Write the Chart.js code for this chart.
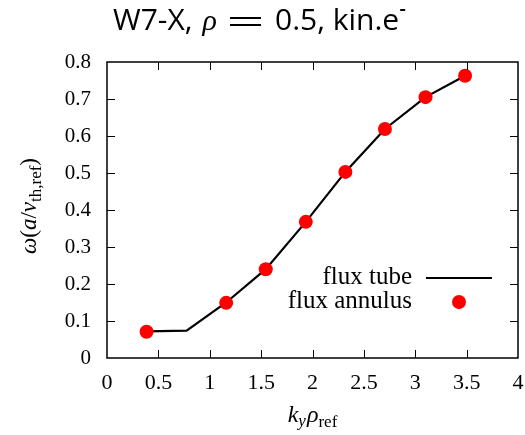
<!DOCTYPE html>
<html>
<head>
<meta charset="utf-8">
<script src="https://cdn.jsdelivr.net/npm/chart.js@4"></script>
<style>
  html, body { margin: 0; padding: 0; background: #fff; }
  #wrap { width: 525px; height: 435px; }
</style>
</head>
<body>
<div id="wrap"><canvas id="growth"></canvas></div>
<script>
const kyTube = [0.385, 0.775, 1.16, 1.545, 1.935, 2.32, 2.705, 3.1, 3.485];
const omegaTube = [0.072, 0.074, 0.15, 0.24, 0.368, 0.503, 0.619, 0.705, 0.763];
const kyAnnulus = [0.385, 1.16, 1.545, 1.935, 2.32, 2.705, 3.1, 3.485];
const omegaAnnulus = [0.071, 0.149, 0.24, 0.368, 0.503, 0.619, 0.705, 0.763];
const xTicks = [0, 0.5, 1, 1.5, 2, 2.5, 3, 3.5, 4];
const yTicks = [0, 0.1, 0.2, 0.3, 0.4, 0.5, 0.6, 0.7, 0.8];

const TSERIF = '"Liberation Serif", serif';
const SANS = '"Open Sans", sans-serif';

// draw a run of text pieces with different fonts / baseline shifts
function drawParts(ctx, parts, x, y, align) {
  let w = 0;
  parts.forEach(p => { ctx.font = p.font; p.w = ctx.measureText(p.t).width; w += p.w + (p.gap || 0); });
  let cx = align === 'center' ? x - w / 2 : (align === 'right' ? x - w : x);
  ctx.textBaseline = 'alphabetic';
  ctx.textAlign = 'left';
  parts.forEach(p => {
    ctx.font = p.font;
    ctx.fillText(p.t, cx, y + (p.dy || 0));
    cx += p.w + (p.gap || 0);
  });
}

const decor = {
  id: 'decor',
  afterDraw(chart) {
    const ctx = chart.ctx;
    const a = chart.chartArea;
    const xs = chart.scales.x, ys = chart.scales.y;
    ctx.save();
    ctx.strokeStyle = '#000';
    ctx.fillStyle = '#000';
    ctx.lineWidth = 1.5;
    ctx.strokeRect(a.left, a.top, a.right - a.left, a.bottom - a.top);
    ctx.lineWidth = 1;
    ctx.beginPath();
    xTicks.slice(1, -1).forEach(v => {
      const px = Math.round(xs.getPixelForValue(v)) + 0.5;
      ctx.moveTo(px, a.bottom); ctx.lineTo(px, a.bottom - 8);
      ctx.moveTo(px, a.top); ctx.lineTo(px, a.top + 8);
    });
    yTicks.slice(1, -1).forEach(v => {
      const py = Math.round(ys.getPixelForValue(v)) + 0.5;
      ctx.moveTo(a.left, py); ctx.lineTo(a.left + 8, py);
      ctx.moveTo(a.right, py); ctx.lineTo(a.right - 8, py);
    });
    ctx.stroke();

    // title: W7-X, rho = 0.5, kin.e-
    ctx.textAlign = 'left';
    ctx.textBaseline = 'alphabetic';
    ctx.font = '30px ' + SANS;
    let tx = 113;
    ctx.fillText('W7-X,', tx, 30);
    tx += ctx.measureText('W7-X,').width + 10;
    ctx.font = 'italic 30px ' + TSERIF;
    ctx.fillText('ρ', tx, 30);
    tx += ctx.measureText('ρ').width + 13;
    ctx.fillRect(tx, 17, 31, 2);
    ctx.fillRect(tx, 24, 31, 2);
    tx += 31 + 14;
    ctx.font = '30px ' + SANS;
    ctx.fillText('0.5, kin.e', tx, 30);
    tx += ctx.measureText('0.5, kin.e').width + 1;
    ctx.fillRect(tx, 9, 5, 2);

    const mid = (a.left + a.right) / 2;
    // x axis title
    drawParts(ctx, [
      { t: 'k', font: 'italic 24px ' + TSERIF },
      { t: 'y', font: 'italic 17px ' + TSERIF, dy: 4, gap: 1 },
      { t: 'ρ', font: 'italic 24px ' + TSERIF },
      { t: 'ref', font: '17px ' + TSERIF, dy: 5 }
    ], mid, 422, 'center');

    // y axis title
    ctx.save();
    ctx.translate(36, (a.top + a.bottom) / 2 - 4);
    ctx.rotate(-Math.PI / 2);
    drawParts(ctx, [
      { t: 'ω', font: 'italic 23px ' + TSERIF },
      { t: '(', font: '23px ' + TSERIF },
      { t: 'a', font: 'italic 23px ' + TSERIF },
      { t: '/', font: '23px ' + TSERIF },
      { t: 'v', font: 'italic 23px ' + TSERIF },
      { t: 'th,ref', font: '17px ' + TSERIF, dy: 5 },
      { t: ')', font: '23px ' + TSERIF }
    ], 0, 0, 'center');
    ctx.restore();

    // legend
    const ds = chart.data.datasets;
    ctx.font = '25px ' + TSERIF;
    ctx.textAlign = 'right';
    ctx.fillText(ds[0].label, 412, 284);
    ctx.fillText(ds[1].label, 412, 308);
    ctx.strokeStyle = ds[0].borderColor;
    ctx.lineWidth = ds[0].borderWidth;
    ctx.beginPath(); ctx.moveTo(426, 278); ctx.lineTo(492, 278); ctx.stroke();
    ctx.fillStyle = ds[1].backgroundColor;
    ctx.beginPath(); ctx.arc(459, 302, ds[1].pointRadius, 0, Math.PI * 2); ctx.fill();
    ctx.restore();
  }
};

new Chart(document.getElementById('growth'), {
  type: 'scatter',
  data: {
    datasets: [
      {
        label: 'flux tube',
        data: kyTube.map((k, i) => ({ x: k, y: omegaTube[i] })),
        showLine: true,
        borderColor: '#000',
        borderWidth: 2.2,
        pointRadius: 0,
        fill: false,
        order: 2
      },
      {
        label: 'flux annulus',
        data: kyAnnulus.map((k, i) => ({ x: k, y: omegaAnnulus[i] })),
        showLine: false,
        backgroundColor: '#ff0000',
        borderColor: '#ff0000',
        pointRadius: 7,
        pointBorderWidth: 0,
        order: 1
      }
    ]
  },
  options: {
    responsive: true,
    maintainAspectRatio: false,
    animation: false,
    layout: { padding: { left: 0, right: -9, top: 62, bottom: 0 } },
    plugins: { legend: { display: false }, tooltip: { enabled: false } },
    scales: {
      x: {
        type: 'linear', min: 0, max: 4,
        afterBuildTicks: s => { s.ticks = xTicks.map(v => ({ value: v })); },
        afterFit: s => { s.height = 77; s.paddingRight = 0; },
        grid: { display: false, drawTicks: false },
        border: { display: false },
        ticks: { color: '#000', padding: 12, font: { family: TSERIF, size: 22 }, maxRotation: 0,
                 callback: v => String(v) }
      },
      y: {
        type: 'linear', min: 0, max: 0.8,
        afterBuildTicks: s => { s.ticks = yTicks.map(v => ({ value: v })); },
        afterFit: s => { s.width = 107; },
        grid: { display: false, drawTicks: false },
        border: { display: false },
        ticks: { color: '#000', padding: 16, font: { family: TSERIF, size: 21 },
                 callback: v => String(v) }
      }
    }
  },
  plugins: [decor]
});
</script>
</body>
</html>
